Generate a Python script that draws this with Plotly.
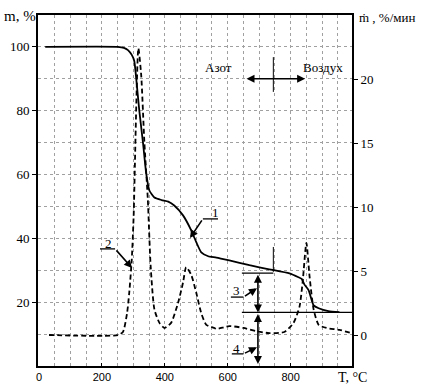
import plotly.graph_objects as go

# Curve 1: mass, % (left axis)
temp_mass = [20, 250, 270, 283, 295, 303, 309, 319, 331, 341, 351, 367, 390, 411, 430, 458, 484, 500, 516, 538, 564, 605, 669, 732, 796, 825, 835, 844, 857, 873, 889, 920, 955]
mass = [100, 100, 99.7, 99, 97.5, 95.6, 90.3, 80, 69.7, 60.3, 55, 52.8, 52, 51.5, 50.3, 47.2, 42.5, 38.8, 35.6, 34.4, 34, 33.1, 31.6, 30.3, 29, 27.8, 27.3, 25.5, 23.8, 19, 18.1, 17.2, 16.9]

# Curve 2: mass loss rate, %/min (right axis)
temp_rate = [32, 251, 267, 280, 287, 295, 301, 316, 325, 335, 346, 355, 367, 383, 399, 420, 442, 458, 468, 484, 500, 516, 532, 558, 564, 605, 650, 691, 732, 780, 809, 828, 838, 850, 860, 873, 889, 914, 955, 994]
rate = [0, 0, 0.24, 1.7, 3.3, 5.9, 9.3, 22.4, 20.3, 15.1, 10.6, 5.4, 2.0, 0.95, 0.55, 0.95, 2.5, 4.1, 5.3, 4.7, 3.3, 1.7, 0.8, 0.55, 0.47, 0.7, 0.55, 0.3, 0.15, 0.24, 0.94, 2.2, 4.1, 7.2, 4.6, 2.0, 0.8, 0.55, 0.4, 0.15]

x_ticks = [0, 200, 400, 600, 800]
m_ticks = [20, 40, 60, 80, 100]
rate_ticks = [0, 5, 10, 15, 20]

SERIF = "Liberation Serif"
SANS = "Liberation Sans"

fig = go.Figure()
fig.add_trace(go.Scatter(x=temp_mass, y=mass, mode="lines", line=dict(color="black", width=1.8, smoothing=0.5),
                         line_shape="spline", yaxis="y", showlegend=False))
fig.add_trace(go.Scatter(x=temp_rate, y=rate, mode="lines", line=dict(color="black", width=1.8, dash="5px,3px", smoothing=0.6),
                         line_shape="spline", yaxis="y2", showlegend=False))

grid = dict(showgrid=True, gridcolor="#a0a0a0", griddash="dot", gridwidth=1)

fig.update_layout(
    width=429, height=387,
    margin=dict(l=38, r=77, t=15, b=21),
    paper_bgcolor="white", plot_bgcolor="white",
    xaxis=dict(range=[-3, 995], tickvals=x_ticks, ticks="inside", ticklen=3, tickcolor="black",
               showline=True, linecolor="black", linewidth=2, mirror=True, zeroline=False,
               automargin=False,
               tickfont=dict(family=SANS, size=11, color="black"),
               minor=dict(dtick=50, tick0=0, **grid), **grid),
    yaxis=dict(range=[0, 110], tickvals=m_ticks, ticks="outside", ticklen=4, tickcolor="black",
               showline=True, linecolor="black", linewidth=2, zeroline=False, automargin=False,
               tickfont=dict(family=SERIF, size=13, color="black"),
               minor=dict(dtick=10, tick0=0, **grid), **grid),
    yaxis2=dict(range=[-2.42, 25], tickvals=rate_ticks, ticks="outside", ticklen=4, tickcolor="black",
                overlaying="y", side="right", showline=True, linecolor="black", linewidth=2,
                showgrid=False, zeroline=False, automargin=False,
                tickfont=dict(family=SERIF, size=13, color="black")),
)

shapes = []
def seg(x0, y0, x1, y1, w=1.3):
    shapes.append(dict(type="line", xref="x", yref="y", x0=x0, y0=y0, x1=x1, y1=y1,
                       line=dict(color="black", width=w)))

# vertical marker for gas switch
seg(745, 96.8, 745, 85.9, 1)
seg(745, 37.3, 745, 29.5, 1)
# horizontal reference lines
seg(645, 29.1, 745, 29.1)
seg(645, 16.8, 995, 16.8)
# leader horizontals
seg(194, 36.7, 242, 36.7)   # 2
seg(521, 46.1, 569, 46.1)   # 1
seg(610, 21.6, 650, 21.6)   # 3
seg(613, 3.8, 650, 3.8)     # 4
fig.update_layout(shapes=shapes)

ann = []
def arrow(x, y, ax, ay, both=False):
    ann.append(dict(x=x, y=y, ax=ax, ay=ay, xref="x", yref="y", axref="x", ayref="y", text="",
                    showarrow=True, arrowhead=2, arrowsize=1.0, arrowwidth=1.6, arrowcolor="black",
                    arrowside="end+start" if both else "end", standoff=0, startstandoff=0))

def label(x, y, t, size=13, ref="x", yref="y", xanchor="center", family=SERIF):
    ann.append(dict(x=x, y=y, xref=ref, yref=yref, text=t, showarrow=False, xanchor=xanchor,
                    yanchor="middle", font=dict(family=family, size=size, color="black")))

# Азот <-> Воздух
arrow(846, 90, 655, 90, both=True)
label(572, 93.7, "Азот")
label(903, 93.7, "Воздух")
# double arrows 3 and 4
arrow(696, 16.8, 696, 29.1, both=True)
arrow(696, 0.6, 696, 16.8, both=True)
# leaders
arrow(296, 30.7, 242, 36.7)
label(220, 38.5, "2")
arrow(480, 40.1, 521, 46.1)
label(561, 48.2, "1")
arrow(693, 24.4, 650, 21.6)
label(628, 23.8, "3")
arrow(693, 5.9, 650, 3.8)
label(628, 5.6, "4")

# axis titles
label(-0.057, 0.997, "m, %", size=15, ref="paper", yref="paper")
label(1.016, 0.994, "ṁ , %/мин", size=13, ref="paper", yref="paper", xanchor="left")
label(1.0, -0.034, "T, °C", size=14, ref="paper", yref="paper")
fig.update_layout(annotations=ann)

fig.write_html("out.html", config={"displayModeBar": False},
               post_script="document.body.style.margin='0';document.body.style.padding='0';")
